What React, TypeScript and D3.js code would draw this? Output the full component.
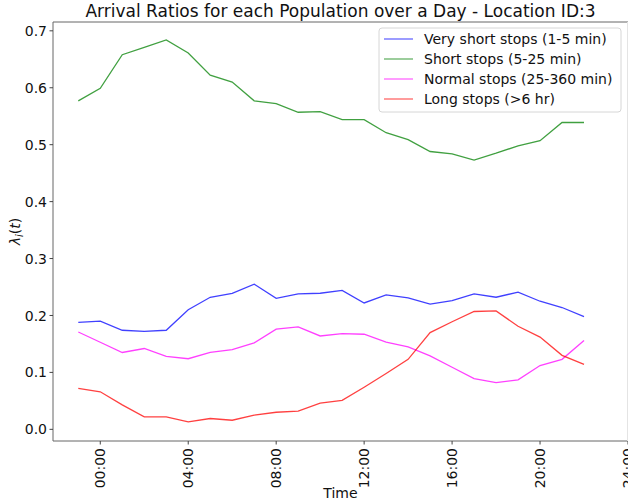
import { useEffect, useRef } from "react";
import * as d3 from "d3";

const hours = [-1, 0, 1, 2, 3, 4, 5, 6, 7, 8, 9, 10, 11, 12, 13, 14, 15, 16, 17, 18, 19, 20, 21, 22];

const veryShort = [0.188, 0.19, 0.174, 0.172, 0.174, 0.21, 0.232, 0.239, 0.255, 0.23, 0.238, 0.239, 0.244, 0.222, 0.236, 0.231, 0.22, 0.226, 0.238, 0.232, 0.241, 0.225, 0.214, 0.198];
const short = [0.577, 0.599, 0.658, 0.671, 0.684, 0.661, 0.622, 0.61, 0.577, 0.572, 0.557, 0.558, 0.544, 0.544, 0.521, 0.509, 0.488, 0.484, 0.473, 0.485, 0.498, 0.507, 0.539, 0.539];
const normal = [0.171, 0.153, 0.135, 0.142, 0.128, 0.124, 0.135, 0.14, 0.152, 0.176, 0.18, 0.164, 0.168, 0.167, 0.153, 0.145, 0.129, 0.109, 0.089, 0.082, 0.087, 0.112, 0.123, 0.156];
const long = [0.072, 0.066, 0.043, 0.022, 0.022, 0.013, 0.019, 0.016, 0.025, 0.03, 0.032, 0.046, 0.051, 0.074, 0.098, 0.123, 0.17, 0.189, 0.207, 0.208, 0.181, 0.162, 0.13, 0.114];

const seriesNames = ["Very short stops (1-5 min)", "Short stops (5-25 min)", "Normal stops (25-360 min)", "Long stops (>6 hr)"];
const seriesColors = ["#0000ff", "#008000", "#ff00ff", "#ff0000"];

const xTickHours = [0, 4, 8, 12, 16, 20, 24];
const xTickLabels = ["00:00", "04:00", "08:00", "12:00", "16:00", "20:00", "24:00"];
const yTicks = [0, 0.1, 0.2, 0.3, 0.4, 0.5, 0.6, 0.7];

export default function App() {
  const svgRef = useRef<SVGSVGElement | null>(null);

  useEffect(() => {
    if (!svgRef.current) return;
    const svg = d3.select(svgRef.current);
    svg.selectAll("*").remove();

    const width = 628;
    const height = 504;
    const left = 53;
    const right = 628;
    const top = 22;
    const bottom = 441;
    const font = "DejaVu Sans, sans-serif";

    svg.attr("width", width).attr("height", height).attr("viewBox", `0 0 ${width} ${height}`);
    svg.append("rect").attr("width", width).attr("height", height).attr("fill", "#fff");

    const x = d3.scaleLinear().domain([-2.15, 24]).range([left, right]);
    const y = d3.scaleLinear().domain([-0.0205, 0.7155]).range([bottom, top]);

    const allSeries = [veryShort, short, normal, long];
    const line = d3
      .line<number>()
      .x((_, i) => x(hours[i]))
      .y((d) => y(d));

    const plot = svg.append("g");
    allSeries.forEach((values, i) => {
      plot
        .append("path")
        .attr("d", line(values))
        .attr("fill", "none")
        .attr("stroke", seriesColors[i])
        .attr("stroke-opacity", 0.75)
        .attr("stroke-width", 1.3);
    });

    // spines
    svg.append("line").attr("x1", left).attr("x2", left).attr("y1", top).attr("y2", bottom).attr("stroke", "#666").attr("stroke-width", 1);
    svg.append("line").attr("x1", left).attr("x2", right).attr("y1", bottom).attr("y2", bottom).attr("stroke", "#666").attr("stroke-width", 1);
    svg.append("line").attr("x1", left).attr("x2", right).attr("y1", top).attr("y2", top).attr("stroke", "#666").attr("stroke-width", 1);
    svg.append("line").attr("x1", 627.5).attr("x2", 627.5).attr("y1", top).attr("y2", bottom).attr("stroke", "#e4e4e4").attr("stroke-width", 1);

    // y ticks
    const yg = svg.append("g");
    yTicks.forEach((t) => {
      yg.append("line").attr("x1", left - 3.5).attr("x2", left).attr("y1", y(t)).attr("y2", y(t)).attr("stroke", "#444");
      yg.append("text")
        .attr("x", left - 6)
        .attr("y", y(t))
        .attr("dy", "0.36em")
        .attr("text-anchor", "end")
        .attr("font-family", font)
        .attr("font-size", 14)
        .attr("fill", "#111")
        .text(t.toFixed(1));
    });

    // x ticks
    const xg = svg.append("g");
    xTickHours.forEach((h, i) => {
      xg.append("line").attr("x1", x(h)).attr("x2", x(h)).attr("y1", bottom).attr("y2", bottom + 3.5).attr("stroke", "#444");
      xg.append("text")
        .attr("transform", `translate(${x(h)},${bottom + 7}) rotate(-90)`)
        .attr("dy", "0.36em")
        .attr("text-anchor", "end")
        .attr("font-family", font)
        .attr("font-size", 14)
        .attr("fill", "#111")
        .text(xTickLabels[i]);
    });

    svg.append("text")
      .attr("x", (left + right) / 2)
      .attr("y", 498)
      .attr("text-anchor", "middle")
      .attr("font-family", font)
      .attr("font-size", 14)
      .attr("fill", "#111")
      .text("Time");

    const ylab = svg.append("text")
      .attr("transform", `translate(20,${(top + bottom) / 2}) rotate(-90)`)
      .attr("text-anchor", "middle")
      .attr("font-family", font)
      .attr("font-size", 14)
      .attr("fill", "#111");
    ylab.append("tspan").attr("font-style", "italic").text("λ");
    ylab.append("tspan").attr("font-style", "italic").attr("font-size", 10).attr("dy", 3).text("i");
    ylab.append("tspan").attr("dy", -3).text("(");
    ylab.append("tspan").attr("font-style", "italic").text("t");
    ylab.append("tspan").text(")");

    svg.append("text")
      .attr("x", (left + right) / 2)
      .attr("y", 17)
      .attr("text-anchor", "middle")
      .attr("font-family", font)
      .attr("font-size", 17)
      .attr("fill", "#111")
      .text("Arrival Ratios for each Population over a Day - Location ID:3");

    // legend
    const lg = svg.append("g");
    lg.append("rect")
      .attr("x", 379)
      .attr("y", 28)
      .attr("width", 242)
      .attr("height", 84)
      .attr("rx", 3)
      .attr("fill", "#fff")
      .attr("fill-opacity", 0.8)
      .attr("stroke", "#d6d6d6");
    seriesNames.forEach((name, i) => {
      const ry = 39 + i * 20;
      lg.append("line").attr("x1", 384).attr("x2", 413).attr("y1", ry).attr("y2", ry).attr("stroke", seriesColors[i]).attr("stroke-opacity", 0.6).attr("stroke-width", 1.3);
      lg.append("text")
        .attr("x", 424)
        .attr("y", ry)
        .attr("dy", "0.36em")
        .attr("font-family", font)
        .attr("font-size", 14)
        .attr("fill", "#111")
        .text(name);
    });
  }, []);

  return (
    <div style={{ position: "absolute", left: 0, top: 0 }}>
      <svg ref={svgRef} style={{ display: "block" }} />
    </div>
  );
}
